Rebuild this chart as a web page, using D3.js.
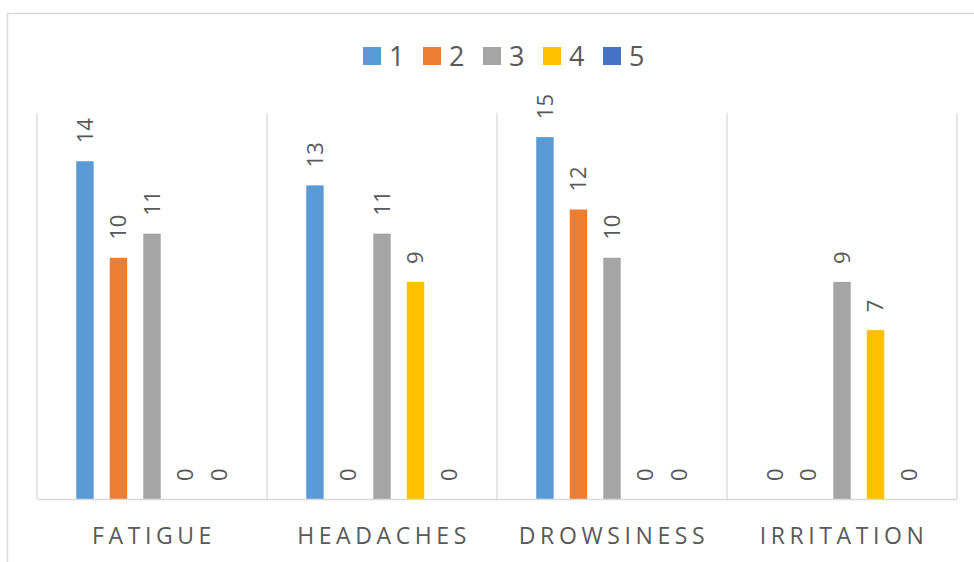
<!DOCTYPE html>
<html>
<head>
<meta charset="utf-8">
<script src="https://cdn.jsdelivr.net/npm/d3@7"></script>
<style>
  body { margin: 0; background: #fff; }
  text { font-family: 'Open Sans', sans-serif; fill: #595959; }
</style>
</head>
<body>
<div id="chart"></div>
<script>
var categories = ['FATIGUE', 'HEADACHES', 'DROWSINESS', 'IRRITATION'];
var seriesNames = ['1', '2', '3', '4', '5'];
var s1 = [14, 13, 15, 0];
var s2 = [10, 0, 12, 0];
var s3 = [11, 11, 10, 9];
var s4 = [0, 9, 0, 7];
var s5 = [0, 0, 0, 0];
var colors = ['#5B9BD5', '#ED7D31', '#A5A5A5', '#FFC000', '#4472C4'];

var width = 974;
var height = 562;
var plot = { left: 37, right: 957, top: 113, bottom: 499 };

var seriesValues = [s1, s2, s3, s4, s5];
var rows = categories.map(function(c, i) {
	return {
		name: c,
		values: seriesNames.map(function(s, j) {
			return { series: s, value: seriesValues[j][i], idx: j };
		})
	};
});

var svg = d3
	.select('#chart')
	.append('svg')
	.attr('width', width)
	.attr('height', height);

/* outer chart border */
svg
	.append('rect')
	.attr('x', 7.5)
	.attr('y', 13.5)
	.attr('width', 1000)
	.attr('height', 600)
	.attr('fill', 'none')
	.attr('stroke', '#d9d9d9')
	.attr('stroke-width', 1.5);

/* Scale */
var x0 = d3
	.scaleBand()
	.domain(categories)
	.range([plot.left, plot.right]);

var x1 = d3
	.scaleBand()
	.domain(seriesNames)
	.range([0, x0.bandwidth()])
	.paddingInner(0.48)
	.paddingOuter(1.17);

var yScale = d3
	.scaleLinear()
	.domain([0, 16])
	.range([plot.bottom, plot.top]);

var color = d3.scaleOrdinal().domain(seriesNames).range(colors);

/* gridlines at category boundaries */
var bounds = categories.map(function(c) { return x0(c); }).concat([plot.right]);
svg
	.append('g')
	.selectAll('line')
	.data(bounds)
	.enter()
	.append('line')
	.attr('x1', d => d)
	.attr('x2', d => d)
	.attr('y1', yScale(16))
	.attr('y2', yScale(0))
	.attr('stroke', '#d9d9d9')
	.attr('stroke-width', 1.3);

/* bars */
var groups = svg
	.append('g')
	.selectAll('g')
	.data(rows)
	.enter()
	.append('g')
	.attr('transform', d => `translate(${x0(d.name)},0)`);

groups
	.selectAll('rect')
	.data(d => d.values)
	.enter()
	.append('rect')
	.attr('x', d => x1(d.series))
	.attr('width', x1.bandwidth())
	.attr('y', d => yScale(d.value))
	.attr('height', d => yScale(0) - yScale(d.value))
	.attr('fill', d => color(d.series));

groups
	.selectAll('text')
	.data(d => d.values)
	.enter()
	.append('text')
	.attr('transform', d => `translate(${x1(d.series) + x1.bandwidth() / 2},${yScale(d.value) - 18}) rotate(-90)`)
	.attr('dy', '0.36em')
	.style('font-size', '22px')
	.text(d => d.value);

/* x axis */
var xAxis = d3.axisBottom(x0).tickSize(0).tickPadding(0);
var gx = svg
	.append('g')
	.attr('transform', `translate(0, ${plot.bottom})`)
	.call(xAxis);
gx.select('.domain').attr('stroke', '#d9d9d9').attr('stroke-width', 1.5);
gx.selectAll('text')
	.attr('y', 45)
	.attr('dy', 0)
	.attr('dx', '2px')
	.style('font-size', '23px')
	.style('letter-spacing', '4.6px')
	.attr('fill', '#595959');

/* legend */
var legend = svg
	.append('g')
	.selectAll('g')
	.data(seriesNames)
	.enter()
	.append('g')
	.attr('transform', (d, i) => `translate(${363 + i * 60}, 47)`);

legend
	.append('rect')
	.attr('width', 18)
	.attr('height', 18)
	.attr('fill', d => color(d));

legend
	.append('text')
	.attr('x', 26)
	.attr('y', 19)
	.style('font-size', '27px')
	.text(d => d);
</script>
</body>
</html>
